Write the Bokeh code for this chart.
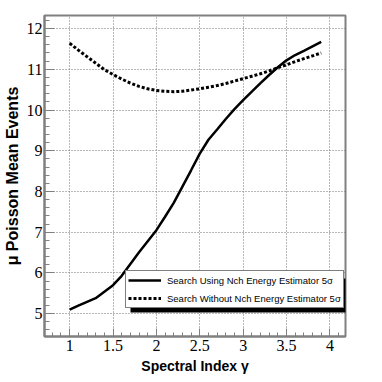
from bokeh.plotting import figure
from bokeh.models import (Legend, LegendItem, SingleIntervalTicker, Range1d,
                          BoxAnnotation)
from bokeh.embed import file_html
from bokeh.resources import INLINE

# ---- data ----
gamma = [1.0, 1.1, 1.2, 1.3, 1.4, 1.5, 1.6, 1.7, 1.8, 1.9,
         2.0, 2.1, 2.2, 2.3, 2.4, 2.5, 2.6, 2.7, 2.8, 2.9,
         3.0, 3.1, 3.2, 3.3, 3.4, 3.5, 3.6, 3.7, 3.8, 3.9]
with_nch = [5.10, 5.20, 5.29, 5.38, 5.54, 5.70, 5.93, 6.22, 6.51, 6.78,
            7.05, 7.38, 7.72, 8.12, 8.52, 8.93, 9.27, 9.52, 9.78, 10.02,
            10.24, 10.45, 10.66, 10.86, 11.05, 11.22, 11.35, 11.45, 11.56, 11.67]
without_nch = [11.64, 11.47, 11.31, 11.15, 10.99, 10.87, 10.76, 10.66, 10.58, 10.52,
               10.48, 10.46, 10.45, 10.46, 10.49, 10.52, 10.56, 10.60, 10.65, 10.71,
               10.77, 10.83, 10.89, 10.96, 11.04, 11.11, 11.19, 11.26, 11.33, 11.40]
label_with = "Search Using Nch Energy Estimator 5\u03c3"
label_without = "Search Without Nch Energy Estimator 5\u03c3"
x_title = "Spectral Index \u03b3"
y_title = "\u03bc Poisson Mean Events"

p = figure(frame_width=301, frame_height=321,
           x_range=Range1d(0.71, 4.18), y_range=Range1d(4.44, 12.32),
           output_backend="svg", toolbar_location=None,
           min_border_left=34, min_border_top=15, min_border_right=31,
           min_border_bottom=30)
p.background_fill_color = "white"
p.border_fill_color = "white"
p.outline_line_color = "#808080"
p.outline_line_width = 2

r1 = p.line(gamma, with_nch, line_color="black", line_width=2.5)
r2 = p.line(gamma, without_nch, line_color="black", line_width=3,
            line_dash="3 2")

for ax, interval in ((p.xaxis[0], 0.5), (p.yaxis[0], 1.0)):
    ax.ticker = SingleIntervalTicker(interval=interval, num_minor_ticks=5)
    ax.axis_line_color = "#808080"
    ax.axis_line_width = 2
    ax.major_tick_line_color = "#808080"
    ax.minor_tick_line_color = "#808080"
    ax.major_tick_out = 0
    ax.minor_tick_out = 0
    ax.major_label_text_font = "Liberation Serif"
    ax.major_label_text_font_size = "16px"
    ax.major_label_text_color = "black"
    ax.axis_label_text_font = "Liberation Sans"
    ax.axis_label_text_font_style = "bold"
    ax.axis_label_text_color = "black"

p.xaxis.major_tick_in = 8
p.xaxis.minor_tick_in = 4
p.yaxis.major_tick_in = 10
p.yaxis.minor_tick_in = 5
p.xaxis.major_label_standoff = 3
p.yaxis.major_label_standoff = 2
p.xaxis.axis_label = x_title
p.yaxis.axis_label = y_title
p.xaxis.axis_label_text_font_size = "14px"
p.yaxis.axis_label_text_font_size = "16px"
p.xaxis.axis_label_standoff = 4
p.yaxis.axis_label_standoff = 3

for g in (p.xgrid[0], p.ygrid[0]):
    g.grid_line_color = "#707070"
    g.grid_line_dash = "1 2"
    g.grid_line_width = 1

shadow = BoxAnnotation(left=86, right=302, bottom=24, top=58,
                       left_units="screen", right_units="screen",
                       bottom_units="screen", top_units="screen",
                       fill_color="black", fill_alpha=1.0, line_color=None)
p.add_layout(shadow)

legend = Legend(items=[LegendItem(label=label_with, renderers=[r1]),
                       LegendItem(label=label_without, renderers=[r2])],
                location=(81, 28))
legend.label_text_font = "Liberation Sans"
legend.label_text_font_size = "9.5px"
legend.label_text_color = "black"
legend.glyph_width = 33
legend.glyph_height = 14
legend.label_height = 14
legend.label_standoff = 6
legend.spacing = 4
legend.padding = 2
legend.margin = 0
legend.border_line_color = "black"
legend.border_line_width = 1
legend.background_fill_color = "white"
legend.background_fill_alpha = 1.0
p.add_layout(legend)

open("out.html", "w").write(file_html(p, INLINE))
